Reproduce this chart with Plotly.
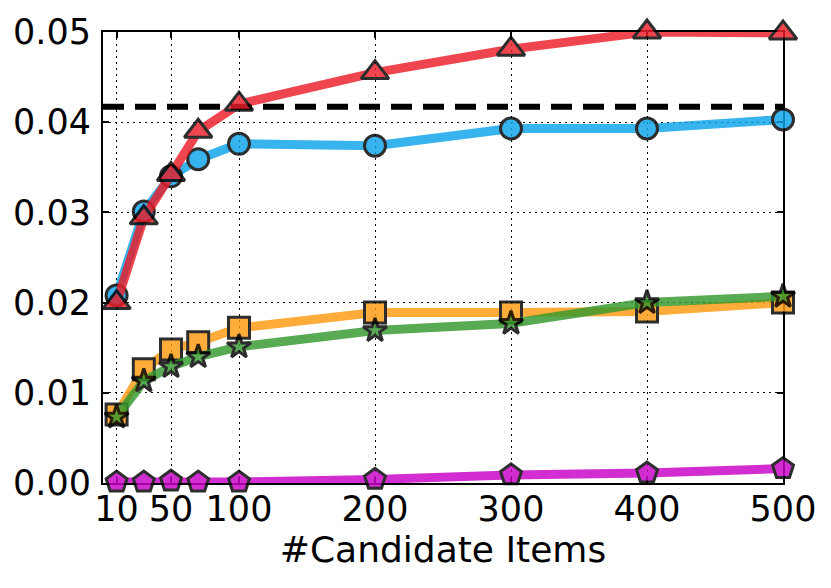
import plotly.graph_objects as go

candidates = [10, 30, 50, 70, 100, 200, 300, 400, 500]

red_vals = [0.0200, 0.0294, 0.0342, 0.0390, 0.0420, 0.0455, 0.0481, 0.0500, 0.0499]
blue_vals = [0.0208, 0.0301, 0.0340, 0.0359, 0.0376, 0.0374, 0.0393, 0.0393, 0.0403]
orange_vals = [0.0076, 0.0126, 0.0148, 0.0156, 0.0172, 0.0189, 0.0189, 0.0190, 0.0200]
green_vals = [0.0073, 0.0113, 0.0129, 0.0140, 0.0151, 0.0169, 0.0177, 0.0200, 0.0207]
magenta_vals = [0.0001, 0.0001, 0.0002, 0.0001, 0.0001, 0.0004, 0.0009, 0.0011, 0.0016]

baseline = 0.0417

x_ticks = [10, 50, 100, 200, 300, 400, 500]
y_ticks = [0.00, 0.01, 0.02, 0.03, 0.04, 0.05]

# (values, colour, marker symbol, marker size) in drawing order
series = [
    (magenta_vals, "#C800C8", "pentagon", 22),
    (orange_vals, "#FF9A10", "square", 21),
    (green_vals, "#34992E", "star", 18),
    (blue_vals, "#0CA3EA", "circle", 21),
    (red_vals, "#EB1D28", "triangle-up", 24),
]

fig = go.Figure()
for vals, col, sym, size in series:
    fig.add_trace(go.Scatter(
        x=candidates, y=vals, mode="lines+markers",
        line=dict(color=col, width=9),
        marker=dict(symbol=sym, size=size, color=col,
                    line=dict(color="#000000", width=3)),
        opacity=0.82, cliponaxis=False, showlegend=False,
    ))

fig.add_hline(y=baseline, layer="below",
              line=dict(color="black", width=6, dash="21px,11px"))

axis_style = dict(
    showline=True, linecolor="black", linewidth=2, mirror="ticks",
    ticks="inside", ticklen=6, tickwidth=1.5, tickcolor="black",
    showgrid=True, gridcolor="black", gridwidth=1.2, griddash="2px,4px",
    zeroline=False, tickfont=dict(size=35, color="black"),
    automargin=False, layer="below traces",
)

fig.update_xaxes(range=[0, 500], tickvals=x_ticks, ticklabelstandoff=-6,
                 title=dict(text="#Candidate Items", font=dict(size=36, color="black"), standoff=6),
                 **axis_style)
fig.update_yaxes(range=[0, 0.05], tickvals=y_ticks, tickformat=".2f",
                 ticklabelstandoff=3, **axis_style)

# page body has an 8px margin, so the figure is a bit smaller than the window
fig.update_layout(
    width=823, height=580,
    margin=dict(l=95, r=48, t=24, b=105),
    plot_bgcolor="white", paper_bgcolor="white",
    font=dict(family="DejaVu Sans", color="black"),
)

fig.write_html("out.html")
